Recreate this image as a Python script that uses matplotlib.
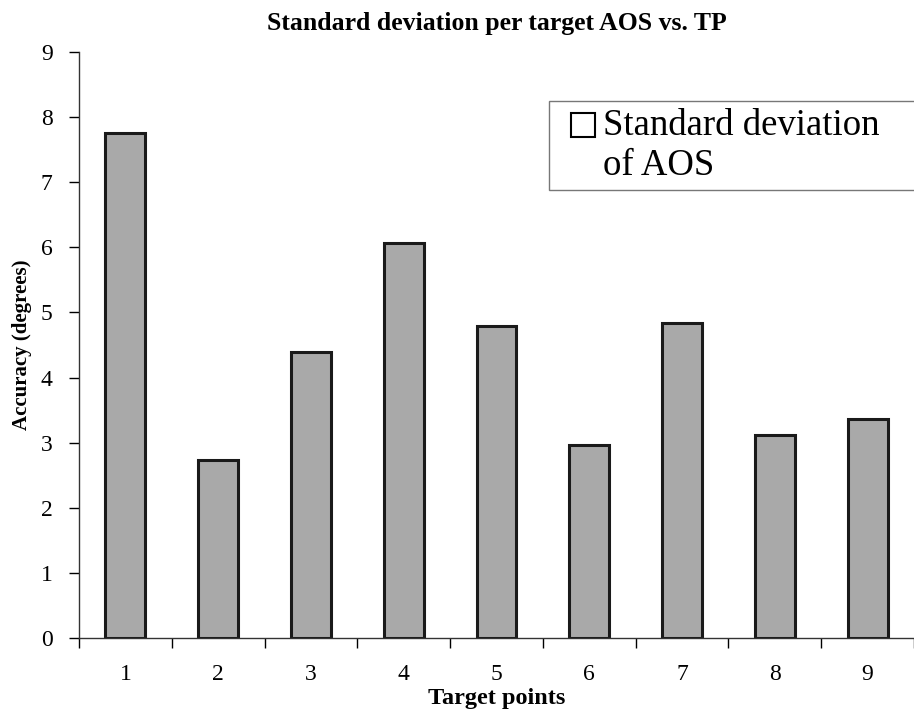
import numpy as np
import matplotlib
matplotlib.use("Agg")
import matplotlib.pyplot as plt
from matplotlib.legend_handler import HandlerPatch

# standard deviation of the AOS for each target point
target_points = [1, 2, 3, 4, 5, 6, 7, 8, 9]
std_aos = [7.76, 2.74, 4.40, 6.07, 4.79, 2.97, 4.84, 3.12, 3.36]
y_ticks = list(range(0, 10))

plt.rcParams['font.family'] = ['Liberation Serif', 'DejaVu Serif']

fig = plt.figure(figsize=(9.14, 7.10), dpi=100)
ax = fig.add_axes([0.0864, 0.1014, 0.9136, 0.8254])

x = np.arange(len(target_points)) + 1
ax.bar(x, std_aos, width=0.43, color='#a9a9a9', edgecolor='#1a1a1a',
       linewidth=2.2, label='Standard deviation\nof AOS', zorder=2)

ax.set_xlim(0.5, 9.5)
ax.set_ylim(0, 9)
ax.set_yticks(y_ticks)
ax.set_xticks(x)
ax.set_xticklabels([str(t) for t in target_points])
# category boundary ticks on the x axis, labels centred under the bars
ax.set_xticks(np.arange(0.5, 9.6, 1.0), minor=True)
ax.tick_params(axis='x', which='major', length=0, pad=19, labelsize=17)
ax.tick_params(axis='x', which='minor', length=7, width=1, direction='out')
ax.tick_params(axis='y', length=7, width=1, direction='out', pad=12, labelsize=17)

for side in ('top', 'right'):
    ax.spines[side].set_visible(False)
for side in ('left', 'bottom'):
    ax.spines[side].set_linewidth(1.0)
    ax.spines[side].set_color('#333333')

ax.set_title('Standard deviation per target AOS vs. TP', fontsize=18.5,
             fontweight='bold', pad=16)
ax.set_xlabel('Target points', fontsize=17.5, fontweight='bold', labelpad=2)
ax.set_ylabel('Accuracy (degrees)', fontsize=15, fontweight='bold', labelpad=6)


def open_square(legend, orig_handle, xdescent, ydescent, width, height, fontsize):
    # square pushed to the right end of the handle area, dropped to the baseline
    side = 0.64 * fontsize
    return plt.Rectangle((width - side - xdescent, height - side - ydescent - 3.5),
                         side, side)


# legend with an open square marker, frame running off the right edge
handle = plt.Rectangle((0, 0), 1, 1, facecolor='white', edgecolor='black', linewidth=1.5)
leg = fig.legend([handle], ['Standard deviation\nof AOS'], loc='upper left',
                 bbox_to_anchor=(549 / 914, 1 - 108 / 710, 0.41, 0.01),
                 mode='expand', fontsize=26.5,
                 handler_map={plt.Rectangle: HandlerPatch(patch_func=open_square)},
                 frameon=True, fancybox=False, handlelength=1.05, handleheight=0.7,
                 handletextpad=0.22, borderpad=0.2, borderaxespad=0,
                 labelspacing=0.05)
leg.get_frame().set_edgecolor('#555555')
leg.get_frame().set_linewidth(1.0)
# put the open square beside the first line of the label
for row in leg._legend_handle_box.get_children()[0].get_children():
    row.align = 'top'

fig.savefig('out.png', dpi=100)
